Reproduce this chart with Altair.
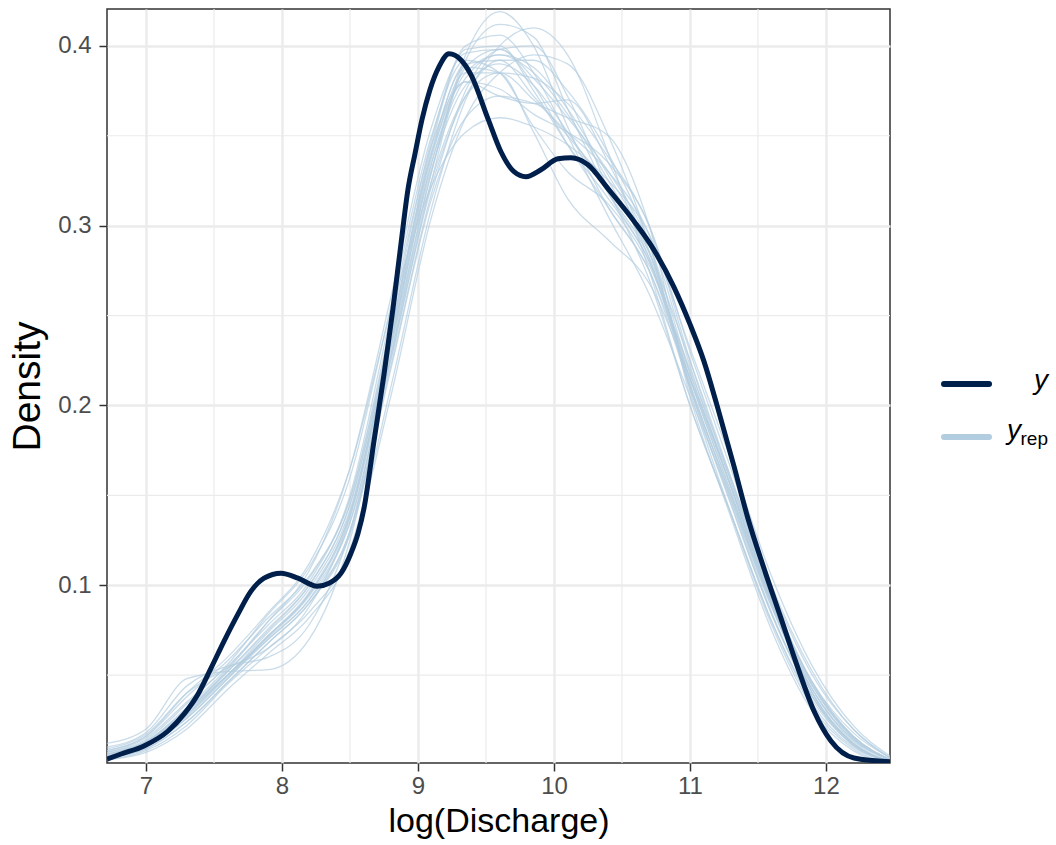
import altair as alt
import pandas as pd

# Observed log(Discharge) density (kernel estimate of y)
x_obs = [6.713, 6.816, 6.985, 7.162, 7.279, 7.382, 7.478, 7.574, 7.676, 7.772,
         7.868, 7.993, 8.118, 8.257, 8.346, 8.434, 8.507, 8.559, 8.603, 8.676,
         8.75, 8.816, 8.875, 8.926, 8.978, 9.029, 9.088, 9.154, 9.228, 9.316,
         9.39, 9.515, 9.61, 9.706, 9.794, 9.904, 10.029, 10.125, 10.25, 10.397,
         10.588, 10.735, 10.882, 11.0, 11.103, 11.199, 11.324, 11.426, 11.544, 11.669,
         11.794, 11.912, 12.037, 12.206, 12.471]
dens_obs = [0.0033, 0.0061, 0.0106, 0.0189, 0.0283, 0.0394, 0.0539, 0.0689, 0.0839, 0.0967,
            0.1039, 0.1067, 0.1039, 0.0994, 0.1011, 0.1067, 0.1178, 0.1289, 0.1428, 0.18,
            0.2172, 0.2539, 0.29, 0.32, 0.34, 0.3589, 0.3756, 0.3883, 0.3956, 0.3922,
            0.3839, 0.3594, 0.3411, 0.33, 0.3272, 0.3311, 0.3372, 0.3378, 0.3339, 0.3206,
            0.3025, 0.2865, 0.2658, 0.2452, 0.2245, 0.2, 0.1661, 0.1372, 0.1094, 0.0817,
            0.0539, 0.03, 0.0133, 0.0039, 0.0018]

# Posterior predictive draws (yrep), densities on a shared grid
x_grid = [6.713, 7.0, 7.3, 7.6, 7.9, 8.2, 8.5, 8.8, 9.1, 9.35, 9.6, 9.85, 10.1,
          10.4, 10.7, 11.0, 11.3, 11.6, 11.9, 12.2, 12.471]
yrep_dens = [
    [0.004, 0.010, 0.026, 0.048, 0.072, 0.095, 0.138, 0.232, 0.330, 0.395, 0.419, 0.400, 0.355, 0.310, 0.275, 0.210, 0.150, 0.088, 0.040, 0.012, 0.002],
    [0.005, 0.011, 0.028, 0.050, 0.070, 0.092, 0.130, 0.225, 0.325, 0.392, 0.412, 0.405, 0.365, 0.318, 0.280, 0.212, 0.148, 0.085, 0.038, 0.011, 0.002],
    [0.003, 0.008, 0.022, 0.045, 0.065, 0.085, 0.120, 0.210, 0.310, 0.370, 0.400, 0.410, 0.395, 0.340, 0.275, 0.200, 0.140, 0.080, 0.034, 0.010, 0.002],
    [0.006, 0.013, 0.030, 0.052, 0.075, 0.100, 0.145, 0.240, 0.345, 0.398, 0.400, 0.375, 0.345, 0.315, 0.280, 0.218, 0.155, 0.092, 0.044, 0.015, 0.003],
    [0.004, 0.009, 0.024, 0.046, 0.068, 0.090, 0.128, 0.220, 0.315, 0.360, 0.372, 0.368, 0.360, 0.350, 0.300, 0.205, 0.138, 0.075, 0.030, 0.008, 0.001],
    [0.007, 0.015, 0.035, 0.055, 0.078, 0.102, 0.150, 0.250, 0.345, 0.380, 0.372, 0.368, 0.370, 0.335, 0.285, 0.215, 0.152, 0.090, 0.042, 0.014, 0.003],
    [0.008, 0.016, 0.040, 0.060, 0.085, 0.112, 0.165, 0.252, 0.322, 0.352, 0.360, 0.355, 0.345, 0.325, 0.295, 0.232, 0.170, 0.105, 0.055, 0.022, 0.005],
    [0.012, 0.020, 0.048, 0.052, 0.053, 0.070, 0.125, 0.228, 0.330, 0.388, 0.398, 0.382, 0.360, 0.330, 0.290, 0.218, 0.155, 0.092, 0.046, 0.018, 0.004],
    [0.010, 0.018, 0.044, 0.055, 0.060, 0.078, 0.130, 0.232, 0.335, 0.385, 0.395, 0.385, 0.362, 0.325, 0.282, 0.210, 0.146, 0.084, 0.038, 0.012, 0.002],
    [0.003, 0.007, 0.020, 0.042, 0.062, 0.082, 0.118, 0.205, 0.305, 0.360, 0.385, 0.395, 0.390, 0.350, 0.290, 0.208, 0.140, 0.078, 0.032, 0.009, 0.001],
    [0.005, 0.012, 0.030, 0.050, 0.072, 0.095, 0.140, 0.238, 0.340, 0.390, 0.392, 0.372, 0.350, 0.322, 0.285, 0.225, 0.160, 0.095, 0.045, 0.015, 0.003],
    [0.006, 0.013, 0.032, 0.054, 0.080, 0.104, 0.148, 0.245, 0.348, 0.400, 0.406, 0.385, 0.350, 0.305, 0.262, 0.205, 0.148, 0.088, 0.042, 0.014, 0.003],
    [0.004, 0.010, 0.026, 0.048, 0.070, 0.092, 0.135, 0.228, 0.325, 0.372, 0.385, 0.382, 0.368, 0.338, 0.300, 0.225, 0.158, 0.092, 0.040, 0.012, 0.002],
    [0.007, 0.014, 0.034, 0.056, 0.084, 0.110, 0.160, 0.255, 0.350, 0.392, 0.385, 0.355, 0.330, 0.312, 0.278, 0.220, 0.160, 0.098, 0.050, 0.020, 0.004],
    [0.005, 0.011, 0.028, 0.050, 0.074, 0.098, 0.142, 0.235, 0.332, 0.378, 0.390, 0.378, 0.352, 0.318, 0.282, 0.215, 0.152, 0.090, 0.042, 0.013, 0.002],
    [0.006, 0.012, 0.030, 0.052, 0.076, 0.100, 0.145, 0.240, 0.342, 0.388, 0.385, 0.352, 0.315, 0.292, 0.268, 0.215, 0.158, 0.095, 0.046, 0.016, 0.003],
    [0.004, 0.009, 0.024, 0.046, 0.068, 0.090, 0.130, 0.222, 0.318, 0.375, 0.398, 0.400, 0.372, 0.320, 0.270, 0.200, 0.140, 0.080, 0.036, 0.011, 0.002],
    [0.009, 0.017, 0.040, 0.054, 0.065, 0.088, 0.138, 0.235, 0.335, 0.382, 0.395, 0.388, 0.365, 0.328, 0.286, 0.212, 0.150, 0.090, 0.044, 0.016, 0.003],
    [0.005, 0.011, 0.029, 0.050, 0.072, 0.096, 0.140, 0.236, 0.338, 0.385, 0.385, 0.370, 0.352, 0.330, 0.295, 0.222, 0.155, 0.090, 0.040, 0.012, 0.002],
    [0.006, 0.013, 0.031, 0.053, 0.080, 0.108, 0.165, 0.260, 0.355, 0.396, 0.398, 0.378, 0.345, 0.310, 0.275, 0.215, 0.155, 0.094, 0.046, 0.016, 0.003],
    [0.004, 0.010, 0.027, 0.049, 0.071, 0.094, 0.135, 0.226, 0.322, 0.372, 0.392, 0.392, 0.375, 0.340, 0.290, 0.210, 0.145, 0.084, 0.038, 0.011, 0.002],
    [0.008, 0.016, 0.038, 0.058, 0.082, 0.105, 0.148, 0.242, 0.340, 0.380, 0.376, 0.362, 0.352, 0.335, 0.300, 0.230, 0.165, 0.100, 0.052, 0.020, 0.004],
]

x_ticks = [7, 8, 9, 10, 11, 12]
y_ticks = [0.1, 0.2, 0.3, 0.4]
x_minor = [7.5, 8.5, 9.5, 10.5, 11.5]
y_minor = [0.05, 0.15, 0.25, 0.35]
x_domain = [6.713, 12.471]
y_domain = [0.0011, 0.4205]

FONT = "Liberation Sans, Arial, sans-serif"
DARK = "#011f4b"
LIGHT = "#b3cde0"
W, H = 783, 754

obs = pd.DataFrame({"x": x_obs, "density": dens_obs})
rep = pd.DataFrame(
    [{"draw": i, "x": xv, "density": dv}
     for i, vals in enumerate(yrep_dens)
     for xv, dv in zip(x_grid, vals)]
)

xs = alt.Scale(domain=x_domain, nice=False, zero=False)
ys = alt.Scale(domain=y_domain, nice=False, zero=False)

x_axis = alt.Axis(
    values=x_ticks, format="d", title="log(Discharge)",
    labelFont=FONT, labelFontSize=24, labelColor="#4D4D4D", labelPadding=3,
    labelFlush=False, labelOverlap=False,
    tickColor="#333333", tickSize=8, tickWidth=1.5, domain=False,
    grid=True, gridColor="#EBEBEB", gridWidth=2.4,
    titleFont=FONT, titleFontSize=34, titleFontWeight="normal",
    titleColor="#000000", titlePadding=6,
)
y_axis = alt.Axis(
    values=y_ticks, format=".1f", title="Density",
    labelFont=FONT, labelFontSize=24, labelColor="#4D4D4D", labelPadding=8,
    labelFlush=False, labelOverlap=False,
    tickColor="#333333", tickSize=8, tickWidth=1.5, domain=False,
    grid=True, gridColor="#EBEBEB", gridWidth=2.4,
    titleFont=FONT, titleFontSize=39, titleFontWeight="normal",
    titleColor="#000000", titlePadding=10,
)

X = alt.X("x:Q", scale=xs, axis=x_axis)
Y = alt.Y("density:Q", scale=ys, axis=y_axis)

minor_x = alt.Chart(pd.DataFrame({"x": x_minor})).mark_rule(
    color="#EBEBEB", strokeWidth=1.2
).encode(x=X)

minor_y = alt.Chart(pd.DataFrame({"density": y_minor})).mark_rule(
    color="#EBEBEB", strokeWidth=1.2
).encode(y=Y)

rep_lines = alt.Chart(rep).mark_line(
    color=LIGHT, strokeWidth=1.3, opacity=0.7, interpolate="monotone", clip=True
).encode(x=X, y=Y, detail="draw:N")

obs_line = alt.Chart(obs).mark_line(
    color=DARK, strokeWidth=5, interpolate="monotone", clip=True
).encode(x=X, y=Y)

# Legend drawn beside the panel
one = pd.DataFrame({"k": [0]})
leg_y_line = alt.Chart(one).mark_rule(color=DARK, strokeWidth=6, strokeCap="round").encode(
    x=alt.value(W + 54), x2=alt.value(W + 99), y=alt.value(375)
)
leg_rep_line = alt.Chart(one).mark_rule(color=LIGHT, strokeWidth=6, strokeCap="round").encode(
    x=alt.value(W + 54), x2=alt.value(W + 99), y=alt.value(428)
)
leg_y_text = alt.Chart(one).mark_text(
    text="y", font=FONT, fontSize=28, fontStyle="italic", align="right",
    baseline="alphabetic", color="#000000"
).encode(x=alt.value(W + 158), y=alt.value(380))
leg_rep_y = alt.Chart(one).mark_text(
    text="y", font=FONT, fontSize=28, fontStyle="italic", align="right",
    baseline="alphabetic", color="#000000"
).encode(x=alt.value(W + 131), y=alt.value(430))
leg_rep_sub = alt.Chart(one).mark_text(
    text="rep", font=FONT, fontSize=19, align="right",
    baseline="alphabetic", color="#000000"
).encode(x=alt.value(W + 158), y=alt.value(436))

chart = alt.layer(
    minor_x, minor_y, rep_lines, obs_line,
    leg_y_line, leg_rep_line, leg_y_text, leg_rep_y, leg_rep_sub,
).properties(
    width=W, height=H,
    padding={"left": 8, "top": 8, "right": 5, "bottom": 2},
    background="#FFFFFF",
).configure_view(
    stroke="#333333", strokeWidth=1.5
)

chart.save("out.html", embed_options={"renderer": "svg", "actions": False})
